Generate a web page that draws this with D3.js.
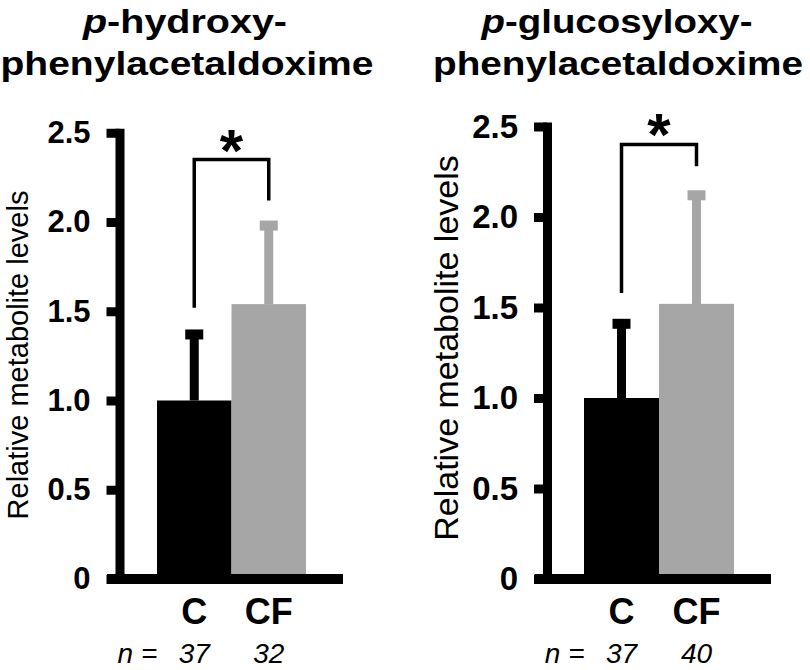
<!DOCTYPE html>
<meta charset="utf-8">
<title>Relative metabolite levels</title>
<style>
  body { margin: 0; background: white; }
  svg { font-family: "Liberation Sans", Arial, sans-serif; }
</style>
<body>
<div id="chart"></div>
<script src="https://d3js.org/d3.v7.min.js"></script>
<script>

// data
var groups = ["C", "CF"];
var yTicks = [0, 0.5, 1.0, 1.5, 2.0, 2.5];

var hydroxyMean = [1.0, 1.54];
var hydroxyErr  = [0.37, 0.44];
var hydroxyN    = [37, 32];

var glucoMean = [1.0, 1.52];
var glucoErr  = [0.41, 0.60];
var glucoN    = [37, 40];

var barColor = ["#000000", "#a6a6a6"];

// layout of the two panels (pixels)
var panels = [
  { t1: "-hydroxy-", t2: "phenylacetaldoxime", t1x: 185, t1w: 204, t2x: 187, t2w: 373,
    mean: hydroxyMean, err: hydroxyErr, n: hydroxyN,
    axisX: 119.5, x0: 157, x1: 306, baseEnd: 343, perUnit: 178.5,
    tickFont: 31, labFont: 29, labX: 27.5, labY: 355,
    bracket: [1.52, 2.12, 2.35], starY: 141 },
  { t1: "-glucosyloxy-", t2: "phenylacetaldoxime", t1x: 617, t1w: 271, t2x: 618, t2w: 370,
    mean: glucoMean, err: glucoErr, n: glucoN,
    axisX: 547, x0: 584, x1: 734, baseEnd: 771, perUnit: 181,
    tickFont: 33, labFont: 34, labX: 458, labY: 348,
    bracket: [1.58, 2.28, 2.40], starY: 125 }
];

var width = 810, height = 670, zeroY = 579;

var svg = d3.select("#chart").append("svg")
    .attr("width", width)
    .attr("height", height);

panels.forEach(function(p) {
  var g = svg.append("g");

  var y = d3.scaleLinear().domain([0, 2.5]).range([zeroY, zeroY - 2.5 * p.perUnit]);
  var x = d3.scaleBand().domain(groups).range([p.x0, p.x1]).padding(0);
  var cx = function(d) { return x(d) + x.bandwidth() / 2; };

  // title
  var t = g.append("text")
      .attr("x", p.t1x).attr("y", 33)
      .attr("text-anchor", "middle")
      .attr("font-size", 33).attr("font-weight", "bold")
      .attr("textLength", p.t1w).attr("lengthAdjust", "spacingAndGlyphs");
  t.append("tspan").attr("font-style", "italic").text("p");
  t.append("tspan").text(p.t1);
  g.append("text")
      .attr("x", p.t2x).attr("y", 75)
      .attr("text-anchor", "middle")
      .attr("font-size", 33).attr("font-weight", "bold")
      .attr("textLength", p.t2w).attr("lengthAdjust", "spacingAndGlyphs")
      .text(p.t2);

  // bars
  g.selectAll(".bar").data(groups).enter().append("rect")
      .attr("x", function(d) { return x(d); })
      .attr("y", function(d, i) { return y(p.mean[i]); })
      .attr("width", x.bandwidth())
      .attr("height", function(d, i) { return y(0) - y(p.mean[i]); })
      .attr("fill", function(d, i) { return barColor[i]; });

  // upper error bars
  g.selectAll(".stem").data(groups).enter().append("line")
      .attr("x1", cx).attr("x2", cx)
      .attr("y1", function(d, i) { return y(p.mean[i]); })
      .attr("y2", function(d, i) { return y(p.mean[i] + p.err[i]); })
      .attr("stroke", function(d, i) { return barColor[i]; })
      .attr("stroke-width", 9);
  g.selectAll(".cap").data(groups).enter().append("line")
      .attr("x1", function(d) { return cx(d) - 9; })
      .attr("x2", function(d) { return cx(d) + 9; })
      .attr("y1", function(d, i) { return y(p.mean[i] + p.err[i]); })
      .attr("y2", function(d, i) { return y(p.mean[i] + p.err[i]); })
      .attr("stroke", function(d, i) { return barColor[i]; })
      .attr("stroke-width", 10);

  // y axis
  var ax = g.append("g")
      .attr("transform", "translate(" + p.axisX + ",0)")
      .call(d3.axisLeft(y).tickValues(yTicks).tickSize(13).tickSizeOuter(0).tickPadding(16)
        .tickFormat(function(d) { return d === 0 ? "0" : d3.format(".1f")(d); }));
  ax.select(".domain").attr("stroke-width", 9).attr("stroke-linecap", "square");
  ax.selectAll(".tick line").attr("stroke-width", 9);
  ax.selectAll(".tick text")
      .attr("font-size", p.tickFont).attr("font-weight", "bold")
      .attr("font-family", "Liberation Sans, Arial, sans-serif").attr("fill", "#000");

  // baseline
  g.append("line")
      .attr("x1", p.axisX - 12.5).attr("x2", p.baseEnd)
      .attr("y1", y(0)).attr("y2", y(0))
      .attr("stroke", "#000").attr("stroke-width", 10);

  // y label
  g.append("text")
      .attr("transform", "translate(" + p.labX + "," + p.labY + ") rotate(-90)")
      .attr("text-anchor", "middle")
      .attr("font-size", p.labFont)
      .text("Relative metabolite levels");

  // category labels
  g.selectAll(".cat").data(groups).enter().append("text")
      .attr("x", cx).attr("y", 624)
      .attr("text-anchor", "middle")
      .attr("font-size", 36).attr("font-weight", "bold")
      .text(function(d) { return d; });

  // n values
  g.append("text")
      .attr("x", cx(groups[0]) - 37).attr("y", 663)
      .attr("text-anchor", "end")
      .attr("font-size", 28).attr("font-style", "italic")
      .text("n =");
  g.selectAll(".n").data(groups).enter().append("text")
      .attr("x", cx).attr("y", 663)
      .attr("text-anchor", "middle")
      .attr("font-size", 28).attr("font-style", "italic")
      .text(function(d, i) { return p.n[i]; });

  // significance bracket
  var bx0 = cx(groups[0]), bx1 = cx(groups[1]);
  g.append("path")
      .attr("d", "M" + bx0 + "," + y(p.bracket[0]) + "V" + y(p.bracket[2]) +
                 "H" + bx1 + "V" + y(p.bracket[1]))
      .attr("fill", "none").attr("stroke", "#000").attr("stroke-width", 3.5);
  g.append("text")
      .attr("x", (bx0 + bx1) / 2).attr("y", p.starY + 30)
      .attr("text-anchor", "middle")
      .attr("font-size", 60).attr("font-weight", "bold")
      .text("*");
});

</script>
</body>
